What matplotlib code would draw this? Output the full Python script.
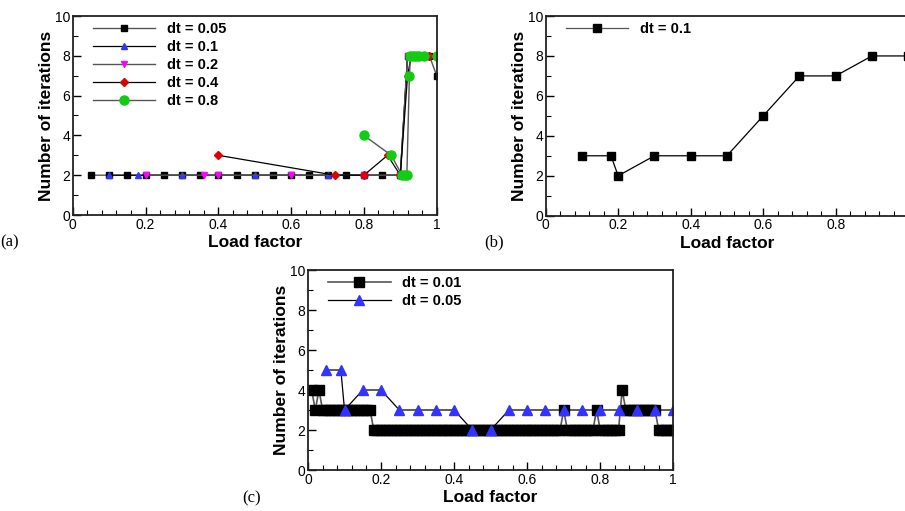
#!/usr/bin/env python3
"""
Iteration counts vs load factor for several time steps, three panels
"""

import matplotlib
matplotlib.use('Agg')
import matplotlib.pyplot as plt
from matplotlib.ticker import MultipleLocator

plt.rcParams['font.family'] = ['Liberation Sans', 'DejaVu Sans']

# panel (a)
a_x_005 = [0.05, 0.10, 0.15, 0.20, 0.25, 0.30, 0.35, 0.40, 0.45, 0.50, 0.55,
           0.60, 0.65, 0.70, 0.75, 0.80, 0.85, 0.90, 0.92, 0.95, 0.98, 1.00]
a_y_005 = [2, 2, 2, 2, 2, 2, 2, 2, 2, 2, 2, 2, 2, 2, 2, 2, 2, 2, 8, 8, 8, 7]
a_x_01 = [0.10, 0.18, 0.30, 0.50, 0.70, 0.80, 0.90, 0.92, 0.96, 1.00]
a_y_01 = [2, 2, 2, 2, 2, 2, 2, 8, 8, 8]
a_x_02 = [0.20, 0.36, 0.40, 0.60, 0.80, 0.90, 0.92, 0.96, 1.00]
a_y_02 = [2, 2, 2, 2, 2, 2, 8, 8, 8]
a_x_04 = [0.40, 0.72, 0.80, 0.865, 0.90, 0.92, 0.93, 0.955, 0.98, 1.00]
a_y_04 = [3, 2, 2, 3, 2, 7, 8, 8, 8, 8]
a_x_08 = [0.80, 0.875, 0.905, 0.912, 0.918, 0.925, 0.928, 0.935, 0.942,
          0.95, 0.965, 1.00]
a_y_08 = [4, 3, 2, 2, 2, 7, 8, 8, 8, 8, 8, 8]

# panel (b)
b_x_01 = [0.10, 0.18, 0.20, 0.30, 0.40, 0.50, 0.60, 0.70, 0.80, 0.90, 1.00]
b_y_01 = [3, 3, 2, 3, 3, 3, 5, 7, 7, 8, 8]

# panel (c)
c_x_001 = [0.01, 0.02, 0.03, 0.04, 0.05, 0.06, 0.07, 0.08, 0.09, 0.10,
           0.11, 0.12, 0.13, 0.14, 0.15, 0.16, 0.17, 0.18, 0.19, 0.20,
           0.21, 0.22, 0.23, 0.24, 0.25, 0.26, 0.27, 0.28, 0.29, 0.30,
           0.31, 0.32, 0.33, 0.34, 0.35, 0.36, 0.37, 0.38, 0.39, 0.40,
           0.41, 0.42, 0.43, 0.44, 0.45, 0.46, 0.47, 0.48, 0.49, 0.50,
           0.51, 0.52, 0.53, 0.54, 0.55, 0.56, 0.57, 0.58, 0.59, 0.60,
           0.61, 0.62, 0.63, 0.64, 0.65, 0.66, 0.67, 0.68, 0.69, 0.70,
           0.71, 0.72, 0.73, 0.74, 0.75, 0.76, 0.77, 0.78, 0.79, 0.80,
           0.81, 0.82, 0.83, 0.84, 0.85, 0.86, 0.87, 0.88, 0.89, 0.90,
           0.91, 0.92, 0.93, 0.94, 0.95, 0.96, 0.97, 0.98, 0.99, 1.00]
c_y_001 = [4, 3, 4, 3, 3, 3, 3, 3, 3, 3,
           3, 3, 3, 3, 3, 3, 3, 2, 2, 2,
           2, 2, 2, 2, 2, 2, 2, 2, 2, 2,
           2, 2, 2, 2, 2, 2, 2, 2, 2, 2,
           2, 2, 2, 2, 2, 2, 2, 2, 2, 2,
           2, 2, 2, 2, 2, 2, 2, 2, 2, 2,
           2, 2, 2, 2, 2, 2, 2, 2, 2, 3,
           2, 2, 2, 2, 2, 2, 2, 2, 3, 2,
           2, 2, 2, 2, 2, 4, 3, 3, 3, 3,
           3, 3, 3, 3, 3, 2, 2, 2, 2, 2]
c_x_005 = [0.05, 0.09, 0.10, 0.15, 0.20, 0.25, 0.30, 0.35, 0.40, 0.45, 0.50,
           0.55, 0.60, 0.65, 0.70, 0.75, 0.80, 0.85, 0.90, 0.95, 1.00]
c_y_005 = [5, 5, 3, 4, 4, 3, 3, 3, 3, 2, 2, 3, 3, 3, 3, 3, 3, 3, 3, 3, 3]

W, H = 905, 511
fig = plt.figure(figsize=(W / 100, H / 100), dpi=100)


def box(l, r, t, b):
    return [l / W, 1 - b / H, (r - l) / W, (b - t) / H]


def style(ax, drop_last=False):
    ax.set_xlim(0, 1)
    ax.set_ylim(0, 10)
    ax.xaxis.set_major_locator(MultipleLocator(0.2))
    ax.xaxis.set_minor_locator(MultipleLocator(0.04))
    ax.yaxis.set_major_locator(MultipleLocator(2))
    ax.yaxis.set_minor_locator(MultipleLocator(1))
    if drop_last:
        fmt = lambda v, p: '' if v > 0.99 else f'{v:g}'
    else:
        fmt = lambda v, p: f'{v:g}'
    ax.xaxis.set_major_formatter(plt.FuncFormatter(fmt))
    ax.tick_params(which='both', direction='in', labelsize=10, pad=2,
                   top=False, right=False)
    ax.tick_params(which='major', length=6, width=1)
    ax.tick_params(which='minor', length=3.5, width=0.8)
    for s in ax.spines.values():
        s.set_linewidth(1.3)
        s.set_color('#222222')
    ax.set_xlabel('Load factor', fontsize=12.5, fontweight='bold', labelpad=2.5)
    ax.set_ylabel('Number of iterations', fontsize=12.5, fontweight='bold',
                  labelpad=0.5)


def legend(ax, width_px):
    return ax.legend(loc='upper left', bbox_to_anchor=(14 / width_px, 1.0),
                     frameon=False, prop={'weight': 'bold', 'size': 10.5},
                     handlelength=4.3, handletextpad=0.8, labelspacing=0.28,
                     borderaxespad=0.1, borderpad=0.3)


grey = '#555555'

# (a)
ax1 = fig.add_axes(box(72.7, 436.7, 16, 215))
ax1.plot(a_x_005, a_y_005, '-s', color=grey, mfc='k', mec='k', ms=4.5, lw=1,
         label='dt = 0.05')
ax1.plot(a_x_01, a_y_01, '-^', color='k', mfc='#3333ff', mec='#3333ff', ms=4.5,
         lw=0.9, label='dt = 0.1')
ax1.plot(a_x_02, a_y_02, '-v', color=grey, mfc='#ff00ff', mec='#ff00ff', ms=4.5,
         lw=1, label='dt = 0.2')
ax1.plot(a_x_04, a_y_04, '-D', color='k', mfc='#dd0000', mec='#dd0000', ms=3.8,
         lw=0.9, label='dt = 0.4')
ax1.plot(a_x_08, a_y_08, '-o', color=grey, mfc='#11cc11', mec='#11cc11', ms=6.5,
         lw=1, label='dt = 0.8')
style(ax1)
legend(ax1, 364)

# (b)
ax2 = fig.add_axes(box(545.7, 908.2, 16, 215.7))
ax2.plot(b_x_01, b_y_01, '-s', color='k', mfc='k', mec='k', ms=6, lw=0.9,
         label='dt = 0.1')
style(ax2, drop_last=True)
leg2 = legend(ax2, 362.5)
leg2.get_lines()[0].set_color(grey)
leg2.get_lines()[0].set_markerfacecolor('k')
leg2.get_lines()[0].set_markeredgecolor('k')

# (c)
ax3 = fig.add_axes(box(308, 673.3, 270, 470))
ax3.plot(c_x_001, c_y_001, '-s', color=grey, mfc='k', mec='k', ms=6.5, lw=1.2,
         label='dt = 0.01')
ax3.plot(c_x_005, c_y_005, '-^', color='k', mfc='#3333ff', mec='#3333ff', ms=6.5,
         lw=0.9, label='dt = 0.05')
style(ax3)
legend(ax3, 365)

serif = ['Liberation Serif', 'DejaVu Serif']
fig.text(0 / W, 1 - 242 / H, '(a)', family=serif, fontsize=12, va='center')
fig.text(484 / W, 1 - 242 / H, '(b)', family=serif, fontsize=12, va='center')
fig.text(242 / W, 1 - 498 / H, '(c)', family=serif, fontsize=12, va='center')

fig.savefig('out.png', dpi=100)
plt.close(fig)
